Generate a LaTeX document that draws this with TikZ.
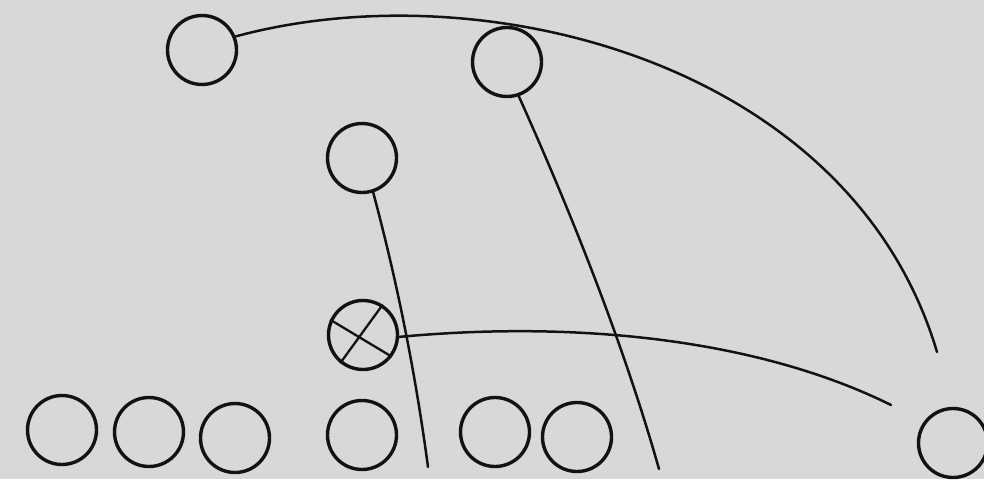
\documentclass[tikz,border=0pt]{standalone}
\usepackage{xcolor}
\definecolor{paper}{RGB}{216,216,216}
\definecolor{ink}{RGB}{18,18,18}
\begin{document}
\begin{tikzpicture}[x=1pt,y=-1pt,
  player/.style={circle,draw=ink,line width=3.4pt,minimum size=69pt,inner sep=0pt},
  route/.style={draw=ink,line width=2.5pt,line cap=round}]
\fill[paper] (0,0) rectangle (984,479);
\useasboundingbox (0,0) rectangle (984,479);
% players
\node[player] (tl) at (202,50) {};
\node[player] (tm) at (507,62) {};
\node[player] (mid) at (362,158) {};
\node[player] (cx) at (363,335) {};
\node[player] (b1) at (62,430) {};
\node[player] (b2) at (149,432) {};
\node[player] (b3) at (235,438) {};
\node[player] (b4) at (362,435) {};
\node[player] (b5) at (495,432) {};
\node[player] (b6) at (577,437) {};
\node[player] (rt) at (953,443) {};
% cross in the marked player
\draw[ink,line width=2.3pt] (cx.155) -- (cx.-37);
\draw[ink,line width=2.3pt] (cx.57) -- (cx.231);
% route ends
\coordinate (aend) at (937,352);
\coordinate (bend) at (428,467);
\coordinate (cend) at (659,469);
\coordinate (dend) at (891,405);
% routes
\draw[route] (tl.22) .. controls (480,-30) and (850,60) .. (aend);
\draw[route] (mid.-72) .. controls (398,285) and (416,377) .. (bend);
\draw[route] (tm.-71) .. controls (574,219) and (625,349) .. (cend);
\draw[route] (cx.-3) .. controls (580,320) and (760,340) .. (dend);
\end{tikzpicture}
\end{document}
